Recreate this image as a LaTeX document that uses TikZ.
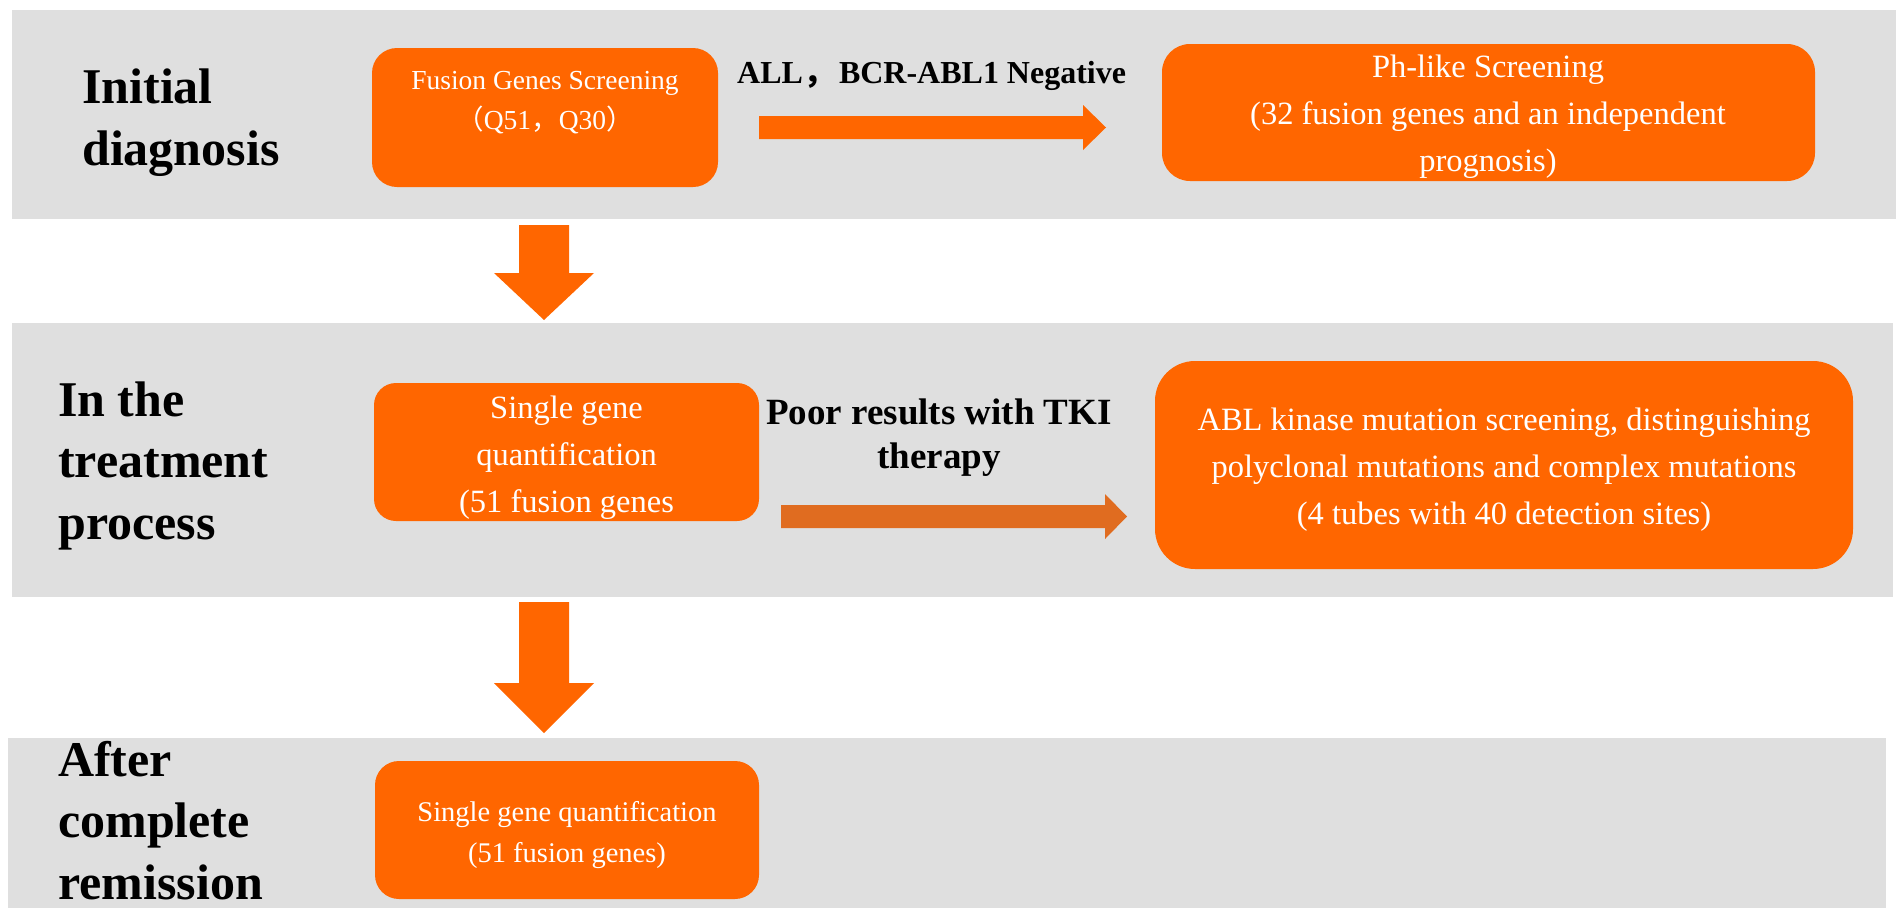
\documentclass[tikz,border=0pt]{standalone}
\usepackage{fontspec}
\setmainfont{Liberation Serif}
\newfontfamily\cjk{Noto Sans CJK SC}
\definecolor{bandgray}{HTML}{DFDFDF}
\definecolor{boxorange}{HTML}{FF6600}
\definecolor{arroworange}{HTML}{E06C20}
\tikzset{
  band/.style={fill=bandgray, draw=none},
  stagebox/.style={fill=boxorange, draw=none},
  blockarrow/.style={fill=boxorange, draw=none},
  stagelabel/.style={inner sep=0pt, align=left, anchor=base west,
    font=\bfseries\fontsize{50}{61.5}\selectfont},
  boxtext/.style={inner sep=0pt, align=center, anchor=base, text=white,
    font=\fontsize{32.5}{47}\selectfont},
  edgelabel/.style={inner sep=0pt, align=center, anchor=base,
    font=\bfseries\fontsize{37}{44}\selectfont},
}
\begin{document}
\begin{tikzpicture}[x=1pt, y=-1pt]
\useasboundingbox (0,0) rectangle (1896,908);
\fill[white] (0,0) rectangle (1896,908);

% stage bands
\path[band] (12,10) rectangle (1896,219);
\path[band] (12,323) rectangle (1893,597);
\path[band] (8,738) rectangle (1886,908);

% stage titles (anchored on the last line's baseline)
\node[stagelabel] (t1) at (82,165) {Initial\\diagnosis};
\node[stagelabel] (t2) at (58,539) {In the\\treatment\\process};
\node[stagelabel] (t3) at (58,899) {After\\complete\\remission};

% boxes
\path[stagebox, rounded corners=25] (372,48) rectangle (718,187);
\coordinate (b1) at (545,117);
\path[stagebox, rounded corners=28] (1162,44) rectangle (1815,181);
\coordinate (b2) at (1488,112);
\path[stagebox, rounded corners=22] (374,383) rectangle (759,521);
\coordinate (b3) at (566.5,452);
\path[stagebox, rounded corners=40] (1155,361) rectangle (1853,569);
\coordinate (b4) at (1504,465);
\path[stagebox, rounded corners=24] (375,761) rectangle (759,899);
\coordinate (b5) at (567,830);

% box texts (anchored on the last line's baseline)
\node[boxtext, font=\fontsize{27.5}{40}\selectfont] (x1) at (545,129)
  {Fusion Genes Screening\\{\cjk （}Q51{\cjk ，}Q30{\cjk ）}};
\node[boxtext] (x2) at (1488,171)
  {Ph-like Screening\\(32 fusion genes and an independent\\prognosis)};
\node[boxtext] (x3) at (566.5,512)
  {Single gene\\quantification\\(51 fusion genes};
\node[boxtext] (x4) at (1504,524)
  {ABL kinase mutation screening, distinguishing\\polyclonal mutations and complex mutations\\(4 tubes with 40 detection sites)};
\node[boxtext, font=\fontsize{28.5}{41}\selectfont] (x5) at (567,862)
  {Single gene quantification\\(51 fusion genes)};

% arrow labels
\node[edgelabel, anchor=base west, font=\bfseries\fontsize{32}{40}\selectfont] (l1) at (737,83)
  {ALL{\cjk ，}\kern4pt BCR-ABL1 Negative};
\node[edgelabel] (l2) at (939,468) {Poor results with TKI\\therapy};

% horizontal block arrows
\path[blockarrow] (759,116) -- (1083,116) -- (1083,105) -- (1106,127.5)
  -- (1083,150) -- (1083,139) -- (759,139) -- cycle;
\path[blockarrow, fill=arroworange] (781,505) -- (1105,505) -- (1105,494) -- (1127,516.5)
  -- (1105,539) -- (1105,528) -- (781,528) -- cycle;

% vertical block arrows between stages
\path[blockarrow] (519,225) -- (569,225) -- (569,273) -- (594,273) -- (544,320)
  -- (494,273) -- (519,273) -- cycle;
\path[blockarrow] (519,602) -- (569,602) -- (569,683) -- (594,683) -- (544,733)
  -- (494,683) -- (519,683) -- cycle;
\end{tikzpicture}
\end{document}
